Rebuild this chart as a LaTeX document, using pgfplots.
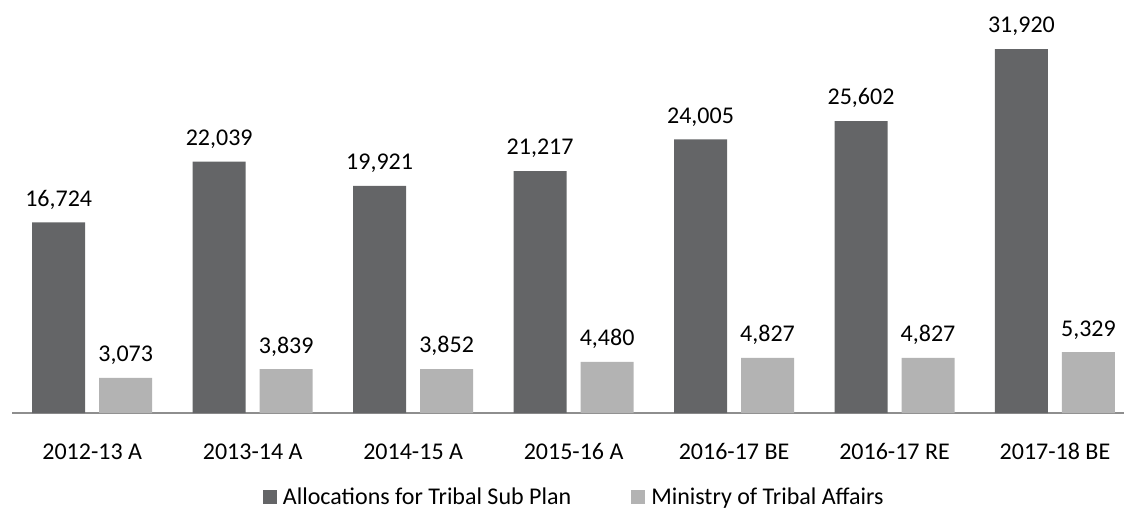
\documentclass[border=0pt]{standalone}
\usepackage{pgfplots}
\pgfplotsset{compat=1.18}
\usepackage{fontspec}
\setmainfont{Carlito}
\definecolor{darkbar}{HTML}{646567}
\definecolor{lightbar}{HTML}{B3B3B3}
\definecolor{axisgray}{HTML}{8E8E8E}
\begin{document}
\begin{tikzpicture}
\useasboundingbox (-12bp,-97bp) rectangle (1112bp,413bp);
\begin{axis}[
  at={(0,0)}, anchor=south west,
  scale only axis, width=1112bp, height=413bp,
  xmin=-0.5, xmax=6.43, ymin=0, ymax=36220,
  ybar, bar width=53bp,
  hide y axis,
  axis x line*=bottom,
  x axis line style={axisgray, line width=1.5bp},
  xtick=data,
  xticklabels={2012-13 A,2013-14 A,2014-15 A,2015-16 A,2016-17 BE,2016-17 RE,2017-18 BE},
  xtick style={draw=none},
  xticklabel style={font=\fontsize{24bp}{28bp}\selectfont, inner sep=0pt, anchor=north, yshift=-26bp},
  nodes near coords,
  nodes near coords style={font=\fontsize{24bp}{28bp}\selectfont, black, inner sep=0pt, anchor=south, text depth=0pt, yshift=16bp,
    /pgf/number format/.cd, fixed, precision=0, 1000 sep={,}, assume math mode=true},
  clip=false,
  legend columns=2,
  legend style={draw=none, fill=none, inner sep=0pt, outer sep=0pt,
    at={(axis description cs:0.2257,-0.2034)}, anchor=west,
    font=\fontsize{24bp}{28bp}\selectfont,
    nodes={inner sep=0pt},
    column sep=0pt,
    /tikz/every odd column/.append style={column sep=6bp},
    /tikz/every even column/.append style={column sep=60bp}},
  legend image code/.code={\fill[#1] (0bp,-7bp) rectangle (14bp,7bp);},
]
\addplot[fill=darkbar, draw=none, bar shift=-33.5bp] coordinates {(0,16724) (1,22039) (2,19921) (3,21217) (4,24005) (5,25602) (6,31920)};
\addplot[fill=lightbar, draw=none, bar shift=33.5bp] coordinates {(0,3073) (1,3839) (2,3852) (3,4480) (4,4827) (5,4827) (6,5329)};
\legend{Allocations for Tribal Sub Plan, Ministry of Tribal Affairs}
\end{axis}
\end{tikzpicture}
\end{document}
